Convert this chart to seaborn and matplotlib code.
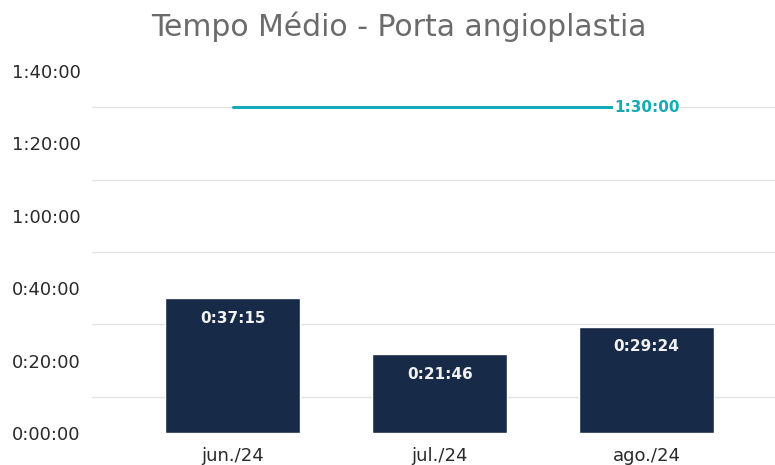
import matplotlib
matplotlib.use("Agg")
import matplotlib.pyplot as plt
import seaborn as sns
import pandas as pd
from matplotlib.ticker import FixedLocator

categories = ["jun./24", "jul./24", "ago./24"]
minutes = [37 + 15/60, 21 + 46/60, 29 + 24/60]
bar_labels = ["0:37:15", "0:21:46", "0:29:24"]
target_minutes = 90
target_label = "1:30:00"
ytick_values = [0, 20, 40, 60, 80, 100]
ytick_labels = ["0:00:00", "0:20:00", "0:40:00", "1:00:00", "1:20:00", "1:40:00"]
grid_values = [10, 30, 50, 70, 90]

sns.set_theme(style="white")
plt.rcParams['font.family'] = ['DejaVu Sans']

df = pd.DataFrame({"mes": categories, "min": minutes})

fig = plt.figure(figsize=(7.75, 4.65), dpi=100)
ax = fig.add_axes([92/775, 32/465, 1 - 92/775, (433-71)/465])

bar_color = "#172a48"
teal = "#16a9b6"

sns.barplot(data=df, x="mes", y="min", color=bar_color, saturation=1, width=0.65, ax=ax, zorder=3)
ax.set_xlim(-0.68, 2.62)
ax.set_ylim(0, 100)

ax.yaxis.set_major_locator(FixedLocator(ytick_values))
ax.set_yticklabels(ytick_labels)
ax.yaxis.set_minor_locator(FixedLocator(grid_values))
ax.grid(False)
ax.grid(True, which="minor", axis="y", color="#e2e2e2", linewidth=1.0, zorder=0)
ax.tick_params(axis="y", which="both", length=0, labelsize=13, colors="#2a2a2a")
ax.tick_params(axis="x", length=0, labelsize=13, colors="#2a2a2a", pad=10)
for lab in ax.get_yticklabels():
    lab.set_horizontalalignment("left")
ax.yaxis.set_tick_params(pad=80 / 1.389)
ax.set_xlabel("")
ax.set_ylabel("")
for s in ax.spines.values():
    s.set_visible(False)

for p, lab in zip(ax.patches, bar_labels):
    cx = p.get_x() + p.get_width() / 2
    top = p.get_height()
    ax.annotate(lab, (cx, top), xytext=(0, -20), textcoords="offset pixels",
                ha="center", va="center", color="#f2f2f2", fontsize=11, fontweight="bold", zorder=5)

ax.plot([0, 2], [target_minutes, target_minutes], color=teal, linewidth=2.2, zorder=4)
ax.text(2, target_minutes, target_label, ha="center", va="center", color=teal,
        fontsize=11, fontweight="bold", zorder=6,
        bbox=dict(facecolor="white", edgecolor="none", pad=0.5))

fig.suptitle("Tempo Médio - Porta angioplastia", x=0.515, y=0.975, color="#6b6b6b", fontsize=21.5)

fig.savefig("out.png", dpi=100)
